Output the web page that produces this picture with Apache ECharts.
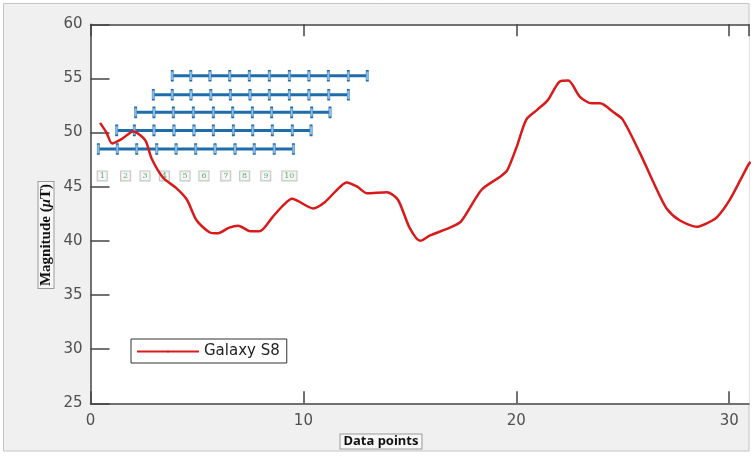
<!DOCTYPE html>
<html>
<head>
<meta charset="utf-8">
<script src="https://cdn.jsdelivr.net/npm/echarts@6/dist/echarts.min.js"></script>
<style>html,body{margin:0;padding:0;background:#fff}#c{width:755px;height:458px}</style>
</head>
<body>
<div id="c"></div>
<script>
// Galaxy S8 magnetic magnitude trace
const galaxyX = [0.45,0.75,1.01,1.46,2.01,2.57,2.87,3.42,4.02,4.53,4.98,5.58,5.99,6.49,6.94,7.5,7.95,8.55,9.06,9.46,10.46,11.02,11.52,12.02,12.53,12.98,13.93,14.44,14.99,15.49,15.95,16.85,17.41,18.36,19.22,19.57,20.02,20.47,20.98,21.48,22.03,22.44,22.99,23.54,23.94,24.55,25.0,25.81,26.61,27.06,27.67,28.47,28.92,29.43,30.03,30.89,31.0];
const galaxyY = [50.9,50.0,49.0,49.4,50.1,49.3,47.6,45.8,44.9,43.8,41.9,40.8,40.7,41.2,41.4,40.9,40.9,42.2,43.3,43.9,43.0,43.6,44.6,45.4,45.0,44.4,44.5,43.8,41.2,40.0,40.5,41.2,41.8,44.7,45.9,46.5,48.7,51.2,52.1,53.0,54.7,54.8,53.3,52.7,52.7,51.9,51.2,48.1,44.7,43.0,41.9,41.3,41.6,42.2,43.8,47.0,47.3];

// Sliding-window bars (tick positions along each row) and row heights
const windowRowY = [55.25, 53.5, 51.87, 50.2, 48.49];
const windowTicks = [
  [3.84,4.71,5.61,6.54,7.46,8.40,9.34,10.26,11.17,12.11,13.0],
  [2.95,3.84,4.72,5.65,6.57,7.49,8.40,9.34,10.26,11.19,12.11],
  [2.12,2.98,3.89,4.83,5.77,6.68,7.60,8.51,9.45,10.39,11.25],
  [1.23,2.06,2.98,3.92,4.86,5.77,6.71,7.62,8.54,9.48,10.36],
  [0.37,1.26,2.17,3.11,4.02,4.94,5.85,6.79,7.69,8.63,9.53]
];

// Numbered window labels
const boxLabels = ['1','2','3','4','5','6','7','8','9','10'];
const boxX = [0.55,1.65,2.56,3.47,4.44,5.33,6.35,7.24,8.23,9.34];
const boxY = 46.0;

const yTicks = { min: 25, max: 60, interval: 5 };
const xTicks = { min: 0, max: 30.93, interval: 10 };

const chart = echarts.init(document.getElementById('c'), null, { renderer: 'canvas' });

const windowSeries = windowTicks.map((row, i) => ({
  type: 'line',
  name: 'win' + i,
  xAxisIndex: 0, yAxisIndex: 0,
  data: row.map(x => [x, windowRowY[i]]),
  symbol: 'rect',
  symbolSize: [2.5, 10],
  showSymbol: true,
  lineStyle: { color: '#1f6cab', width: 3 },
  itemStyle: { color: '#8dbde6', borderColor: '#1f6cab', borderWidth: 0.8 },
  emphasis: { disabled: true },
  z: 3,
  animation: false
}));

const axisCommon = {
  type: 'value',
  axisLine: { show: true, lineStyle: { color: '#444', width: 1.5 } },
  splitLine: { show: false }
};

chart.setOption({
  animation: false,
  backgroundColor: '#ffffff',
  textStyle: { fontFamily: 'DejaVu Sans' },
  graphic: [
    { type: 'rect', z: -100, shape: { x: 3.5, y: 3.5, width: 745.5, height: 447.5 },
      style: { fill: '#f0f0f0', stroke: '#c4c4c4', lineWidth: 1 } },
    { type: 'text', z: 100, x: 46, y: 235, rotation: Math.PI / 2,
      style: { text: '{a|Magnitude (}{b|μ}{a|T)}', fill: '#111',
        align: 'center', verticalAlign: 'middle', backgroundColor: '#f7f7f7',
        borderColor: '#9a9a9a', borderWidth: 1, padding: [0, 2, 0, 2],
        rich: {
          a: { fontFamily: 'Liberation Serif', fontWeight: 'bold', fontSize: 15, fill: '#111' },
          b: { fontFamily: 'Liberation Serif', fontWeight: 'bold', fontStyle: 'italic', fontSize: 15, fill: '#111' }
        } } },
    { type: 'text', z: 100, x: 381, y: 441.5,
      style: { text: 'Data points', font: 'bold 13px "Noto Sans"', fill: '#111',
        align: 'center', verticalAlign: 'middle', backgroundColor: '#f7f7f7',
        borderColor: '#9a9a9a', borderWidth: 1, padding: [1, 3, 0, 3] } }
  ],
  grid: { left: 90.5, right: 6, top: 24.3, bottom: 54.7, show: true, backgroundColor: '#ffffff', borderWidth: 0, containLabel: false },
  legend: {
    data: ['Galaxy S8'],
    left: 131, top: 339,
    orient: 'horizontal',
    backgroundColor: '#ffffff',
    borderColor: '#333', borderWidth: 1, borderRadius: 0,
    padding: [4, 7, 3, 5],
    itemWidth: 62, itemHeight: 2.5, itemGap: 4,
    textStyle: { fontFamily: 'DejaVu Sans', fontSize: 15, color: '#222', lineHeight: 17 }
  },
  xAxis: [
    Object.assign({}, axisCommon, {
      position: 'bottom', min: xTicks.min, max: xTicks.max, interval: xTicks.interval,
      axisTick: { show: true, inside: true, length: 12, lineStyle: { color: '#444', width: 1.5 } },
      axisLabel: { show: true, fontSize: 15, color: '#505050', margin: 10, fontFamily: 'DejaVu Sans',
        showMaxLabel: false }
    }),
    Object.assign({}, axisCommon, {
      position: 'top', min: xTicks.min, max: xTicks.max, interval: xTicks.interval,
      axisTick: { show: true, inside: true, length: 12, lineStyle: { color: '#444', width: 1.5 } },
      axisLabel: { show: false }
    })
  ],
  yAxis: [
    Object.assign({}, axisCommon, {
      min: yTicks.min, max: yTicks.max, interval: yTicks.interval,
      axisTick: { show: true, inside: true, length: 19, lineStyle: { color: '#444', width: 1.5 } },
      axisLabel: { show: true, fontSize: 15, color: '#505050', margin: 8, fontFamily: 'DejaVu Sans' }
    })
  ],
  series: windowSeries.concat([
    {
      type: 'scatter', name: 'labels', xAxisIndex: 0, yAxisIndex: 0,
      data: boxX.map((x, i) => ({ value: [x, boxY], label: { formatter: boxLabels[i] } })),
      symbol: 'rect',
      symbolSize: 1,
      itemStyle: { color: 'rgba(0,0,0,0)' },
      label: {
        show: true, position: 'inside', fontSize: 8, color: '#2e9a48', fontFamily: 'DejaVu Serif',
        backgroundColor: '#f6f6f6', borderColor: '#b5b5b5', borderWidth: 1, padding: [1, 2, 0, 2]
      },
      emphasis: { disabled: true },
      z: 4
    },
    {
      type: 'line', name: 'Galaxy S8', xAxisIndex: 0, yAxisIndex: 0,
      data: galaxyX.map((x, i) => [x, galaxyY[i]]),
      symbol: 'none', smooth: 0.25, clip: true,
      legendIcon: 'rect',
      lineStyle: { color: '#d91a1a', width: 2.5 },
      itemStyle: { color: '#d91a1a' },
      z: 5
    }
  ])
});
</script>
</body>
</html>
